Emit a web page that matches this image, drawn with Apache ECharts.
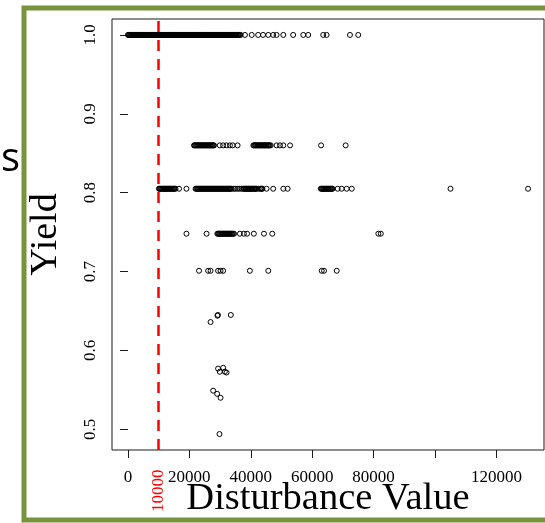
<!DOCTYPE html>
<html>
<head>
<meta charset="utf-8">
<script src="https://cdn.jsdelivr.net/npm/echarts@6/dist/echarts.min.js"></script>
<style>
html,body{margin:0;padding:0;background:#fff;}
#chart{width:545px;height:523px;}
</style>
</head>
<body>
<div id="chart"></div>
<script>
// ---- data ----
var rowYields = [1.0, 0.86, 0.805, 0.748, 0.701];

var row100X = [0, 240, 470, 730, 960, 1210, 1450, 1700, 1930, 2180, 2420, 2660, 2910, 3150, 3390, 3640, 3870, 4120, 4360, 4610, 4840, 5090, 5330, 5570, 5820, 6060, 6300, 6550, 6780, 7030, 7270, 7520, 7750, 8000, 8240, 8480, 8730, 8970, 9210, 9460, 9690, 9940, 10180, 10430, 10660, 10910, 11150, 11390, 11640, 11880, 12120, 12370, 12600, 12850, 13090, 13340, 13570, 13820, 14060, 14300, 14550, 14790, 15030, 15280, 15510, 15760, 16000, 16250, 16480, 16730, 16970, 17210, 17460, 17700, 17940, 18190, 18420, 18670, 18910, 19160, 19390, 19640, 19880, 20120, 20370, 20610, 20850, 21100, 21330, 21580, 21820, 22070, 22300, 22550, 22790, 23030, 23280, 23520, 23760, 24010, 24240, 24490, 24730, 24980, 25210, 25460, 25700, 25940, 26190, 26430, 26670, 26920, 27150, 27400, 27640, 27890, 28120, 28370, 28610, 28850, 29100, 29340, 29580, 29830, 30060, 30310, 30550, 30800, 31030, 31280, 31520, 31760, 32010, 32250, 32490, 32740, 32970, 33220, 33460, 33710, 33940, 34190, 34430, 34670, 34920, 35160, 35400, 35650, 35880, 36130, 36370, 36700,
  38100, 40300, 42400, 44000, 45700, 47300, 48400, 50600, 53800, 57100, 58700, 63600, 64700, 72300, 75000];

var row086X = [21500, 21740, 21980, 22230, 22470, 22710, 22960, 23200, 23440, 23690, 23930, 24170, 24420, 24660, 24900, 25150, 25390, 25630, 25880, 26120, 26360, 26610, 26850, 27090, 27340, 27580, 27820, 28030,
  29900, 31000, 32100, 33200, 34100, 35700,
  40850, 41090, 41330, 41580, 41820, 42060, 42310, 42550, 42790, 43040, 43280, 43520, 43770, 44010, 44250, 44500, 44740, 44980, 45230, 45470, 45710, 45960, 46200, 46500,
  48400, 49500, 50600, 52800, 62900, 70900];

var row0805X = [10080, 10320, 10560, 10810, 11050, 11290, 11540, 11780, 12020, 12270, 12510, 12750, 13000, 13240, 13480, 13730, 13970, 14210, 14460, 14700, 14940, 15190, 15500,
  16640, 19050,
  22020, 22260, 22500, 22750, 22990, 23230, 23480, 23720, 23960, 24210, 24450, 24690, 24940, 25180, 25420, 25670, 25910, 26150, 26400, 26640, 26880, 27130, 27370, 27610, 27860, 28100, 28340, 28590, 28830, 29070, 29320, 29560, 29800, 30050, 30290, 30530, 30780, 31020, 31260, 31510, 31750, 31990, 32240, 32480, 32720, 32970, 33210, 33450, 33700, 34400, 34900, 35600, 36200, 36900, 37500, 37750, 37990, 38240, 38480, 38720, 38970, 39210, 39450, 39700, 39940, 40180, 40430, 40670, 40910, 41160, 41400, 41640, 41890, 42600, 43100, 43350, 43600, 43790,
  45150, 47300, 50600, 52000,
  62810, 63050, 63290, 63540, 63780, 64020, 64270, 64510, 64750, 65000, 65240, 65480, 65730, 65970, 66210, 66460, 66630,
  68300, 69600, 71250, 72900, 105050, 130300];

var row075X = [19050, 25600,
  29100, 29340, 29580, 29830, 30070, 30310, 30560, 30800, 31040, 31290, 31530, 31770, 32020, 32260, 32500, 32750, 32990, 33230, 33480, 33720, 33960, 34210, 34550,
  36450, 37750, 38800, 41000, 44300, 47000, 81550, 82350];

var row070X = [23150, 26100, 26900, 29350, 30150, 31000, 39700, 45700, 63100, 63850, 68000];

var lowX = [26900, 29150, 29300, 33500, 29350, 31000, 29900, 31550, 32100, 27750, 29050, 30150, 29800];
var lowY = [0.636, 0.644, 0.645, 0.645, 0.577, 0.578, 0.573, 0.573, 0.572, 0.549, 0.545, 0.540, 0.494];

var thresholdX = 10000;
var xTickValues = [0, 20000, 40000, 60000, 80000, 100000, 120000];
var xLabelValues = [0, 20000, 40000, 60000, 80000, 120000];
var yTickValues = [0.5, 0.6, 0.7, 0.8, 0.9, 1.0];

// ---- build scatter data ----
var rows = [row100X, row086X, row0805X, row075X, row070X];
var pts = [];
rows.forEach(function (xs, i) {
  xs.forEach(function (x) { pts.push([x, rowYields[i]]); });
});
lowX.forEach(function (x, i) { pts.push([x, lowY[i]]); });

var serif = '"Liberation Serif", "Times New Roman", serif';
var X_MIN = -5200, X_MAX = 135500, Y_MIN = 0.4738, Y_MAX = 1.0202;

var chart = echarts.init(document.getElementById('chart'), null, {renderer: 'canvas'});
chart.setOption({
  animation: false,
  backgroundColor: '#ffffff',
  grid: {
    left: 112, top: 19, right: 1, bottom: 73,
    containLabel: false, outerBoundsMode: 'none',
    show: true, borderColor: '#1a1a1a', borderWidth: 1, backgroundColor: 'transparent'
  },
  xAxis: [{
    type: 'value', min: X_MIN, max: X_MAX, position: 'bottom',
    splitLine: {show: false},
    axisLine: {show: false},
    axisTick: {show: true, length: 8, customValues: xTickValues, lineStyle: {color: '#1a1a1a', width: 1}},
    axisLabel: {
      customValues: xLabelValues, margin: 19, color: '#000', fontFamily: serif, fontSize: 17,
      formatter: function (v) { return String(v); }
    },
    name: 'Disturbance Value', nameLocation: 'middle', nameGap: 29, nameMoveOverlap: false,
    nameTextStyle: {fontFamily: serif, fontSize: 38.5, color: '#000'}
  }, {
    type: 'value', min: X_MIN, max: X_MAX, position: 'bottom', offset: 0,
    splitLine: {show: false},
    axisLine: {show: false},
    axisTick: {show: false},
    axisLabel: {
      customValues: [thresholdX], rotate: 90, margin: 19.5, color: '#ff0000', fontFamily: serif, fontSize: 17,
      formatter: function (v) { return String(v); }
    }
  }],
  yAxis: {
    type: 'value', min: Y_MIN, max: Y_MAX,
    splitLine: {show: false},
    axisLine: {show: false},
    axisTick: {show: true, length: 8, customValues: yTickValues, lineStyle: {color: '#1a1a1a', width: 1}},
    axisLabel: {
      customValues: yTickValues, rotate: 90, margin: 13, color: '#000', fontFamily: serif, fontSize: 17,
      formatter: function (v) { return v.toFixed(1); }
    },
    name: 'Yield', nameLocation: 'middle', nameGap: 47, nameMoveOverlap: false,
    nameTextStyle: {fontFamily: serif, fontSize: 38, color: '#000'}
  },
  series: [{
    type: 'scatter',
    xAxisIndex: 0,
    data: pts,
    symbol: 'circle',
    symbolSize: 5,
    itemStyle: {color: 'rgba(0,0,0,0)', borderColor: '#000', borderWidth: 1, opacity: 1},
    emphasis: {disabled: true},
    silent: true,
    markLine: {
      silent: true,
      symbol: ['none', 'none'],
      label: {show: false},
      lineStyle: {color: '#ff0000', type: [11, 8], width: 2.5, opacity: 1},
      emphasis: {disabled: true},
      data: [{xAxis: thresholdX}]
    }
  }],
  graphic: [{
    type: 'rect',
    shape: {x: 24, y: 8, width: 600, height: 512},
    style: {fill: 'none', stroke: '#77933C', lineWidth: 5},
    silent: true, z: 100
  }, {
    type: 'text',
    style: {text: 's', x: 1, y: 160, fill: '#000', font: '40px "Open Sans"', align: 'left', verticalAlign: 'middle'},
    silent: true
  }]
});
</script>
</body>
</html>
